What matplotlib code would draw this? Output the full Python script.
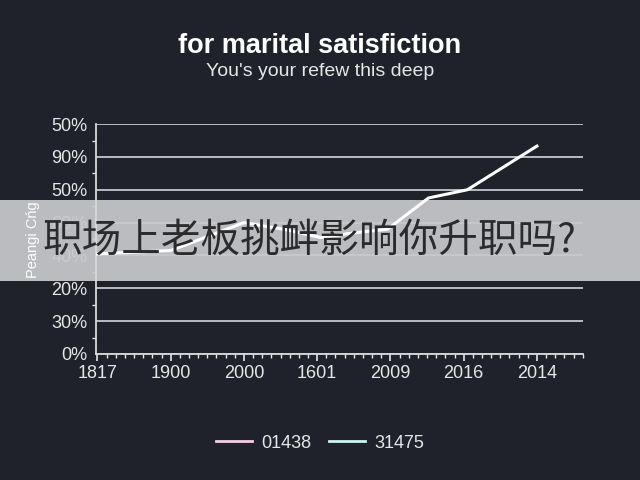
import matplotlib.pyplot as plt
from matplotlib.lines import Line2D
from matplotlib.patches import Rectangle
from matplotlib.ticker import MultipleLocator

# data
x_labels = ['1817', '1900', '2000', '1601', '2009', '2016', '2014']
y_labels = ['0%', '30%', '20%', '40%', '60%', '50%', '90%', '50%']
line_x = [0, 1, 2, 2.54, 3.04, 3.55, 3.96, 4.52, 5.05, 6.0]
line_y = [3.05, 3.15, 4.0, 3.8, 3.55, 3.7, 3.8, 4.75, 5.0, 6.33]
legend_names = ['01438', '31475']
legend_colors = ['#f3cfe6', '#cdf3f2']

bg = '#1f222a'
fg = '#e6e6e6'

plt.rcParams['font.family'] = ['Liberation Sans', 'Noto Sans CJK SC', 'DejaVu Sans']

fig = plt.figure(figsize=(6.4, 4.8), dpi=100, facecolor=bg)
ax = fig.add_axes([0.15, 0.2625, 0.761, 0.479])
ax.set_facecolor(bg)

ax.plot(line_x, line_y, color='white', linewidth=2.2, zorder=3)

ax.set_xlim(-0.02, 6.63)
ax.set_ylim(0, 7)
ax.set_xticks(range(len(x_labels)))
ax.set_xticklabels(x_labels)
ax.set_yticks(range(len(y_labels)))
ax.set_yticklabels(y_labels)
ax.xaxis.set_minor_locator(MultipleLocator(0.125))
ax.yaxis.set_minor_locator(MultipleLocator(0.5))
ax.tick_params(colors=fg, labelsize=13, length=5, width=1.2)
ax.tick_params(which='minor', colors=fg, length=3, width=1)
ax.tick_params(axis='y', which='major', length=0, pad=6)
ax.tick_params(axis='x', which='major', pad=3)

ax.grid(axis='y', color='#b9bdc3', linewidth=1.4)
for side in ['top', 'right']:
    ax.spines[side].set_visible(False)
for side in ['left', 'bottom']:
    ax.spines[side].set_color('#d8d8d8')
    ax.spines[side].set_linewidth(1.3)

# grey banner across the middle
banner = Rectangle((0, 1 - 281 / 480), 1, 81 / 480, transform=fig.transFigure,
                   facecolor='#c8c9cb', alpha=0.93, edgecolor='none',
                   clip_on=False, zorder=2)
ax.add_patch(banner)

fig.text(0.5, 0.905, 'for marital satisfiction', color='white', fontsize=19.5,
         fontweight='bold', ha='center', va='center')
fig.text(0.5, 0.85, "You's your refew this deep", color=fg, fontsize=14,
         ha='center', va='center')
fig.text(0.052, 0.5, 'Peangi Cńg', color='white', fontsize=10.5, rotation=90,
         ha='center', va='center', zorder=4)
fig.text(0.484, 1 - 241 / 480, '职场上老板挑衅影响你升职吗?', color='#2b2b2d',
         fontsize=28.5, ha='center', va='center', zorder=4,
         family=['Noto Sans CJK SC', 'DejaVu Sans'])

handles = [Line2D([], [], color=c, linewidth=2) for c in legend_colors]
fig.legend(handles, legend_names, loc='center', bbox_to_anchor=(0.5, 0.077),
           ncol=2, frameon=False, fontsize=13, labelcolor=fg,
           handlelength=2.0, handletextpad=0.5, columnspacing=1.0)

fig.savefig('out.png', facecolor=bg)
